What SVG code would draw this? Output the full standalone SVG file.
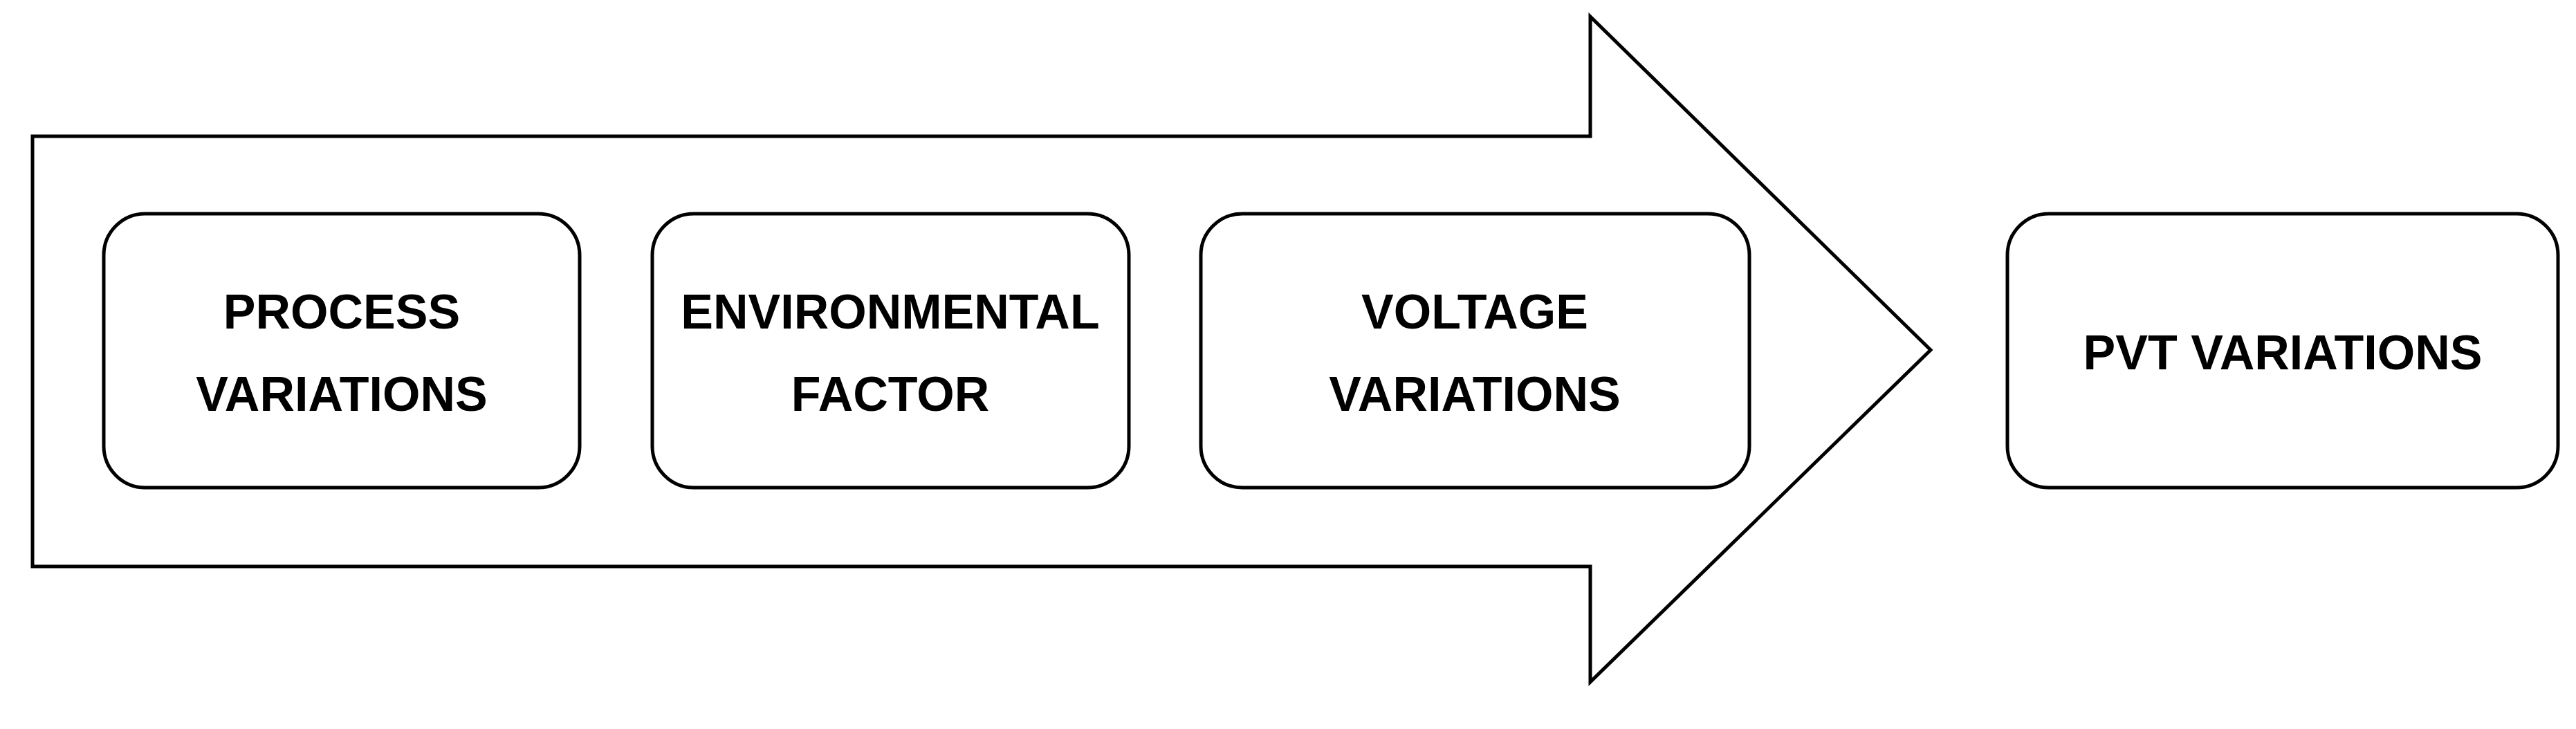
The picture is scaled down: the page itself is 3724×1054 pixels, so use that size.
<svg xmlns="http://www.w3.org/2000/svg" width="3724" height="1054" viewBox="0 0 3724 1054">
<style>
.b{fill:#fff;stroke:#000;stroke-width:5}
.t{font-family:"Liberation Sans",Arial,sans-serif;font-weight:bold;font-size:70px;text-anchor:middle;fill:#000}
</style>
<rect width="3724" height="1054" fill="#fff"/>
<g id="arrow"><polygon class="b" points="47,197 2299,197 2299,24 2791,506 2299,986 2299,819 47,819"/></g>
<g id="process"><rect class="b" x="150" y="309" width="688" height="396" rx="60"/><text class="t" x="494" y="475">PROCESS</text><text class="t" x="494" y="594">VARIATIONS</text></g>
<g id="environmental"><rect class="b" x="943" y="309" width="689" height="396" rx="60"/><text class="t" x="1287" y="475">ENVIRONMENTAL</text><text class="t" x="1287" y="594">FACTOR</text></g>
<g id="voltage"><rect class="b" x="1736" y="309" width="793" height="396" rx="60"/><text class="t" x="2132" y="475">VOLTAGE</text><text class="t" x="2132" y="594">VARIATIONS</text></g>
<g id="pvt"><rect class="b" x="2902" y="309" width="796" height="396" rx="60"/><text class="t" x="3300" y="534">PVT VARIATIONS</text></g>
<g id="connectors"></g>
</svg>
